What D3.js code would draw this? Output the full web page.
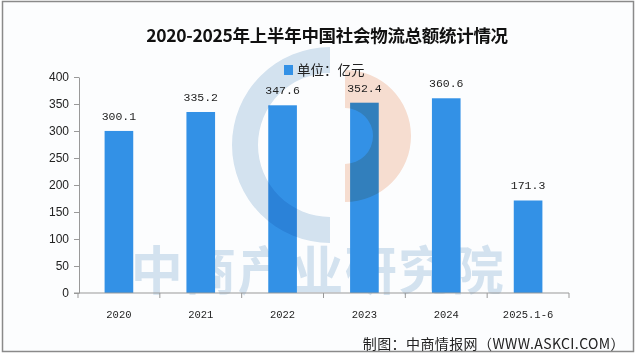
<!DOCTYPE html>
<html>
<head>
<meta charset="utf-8">
<script src="https://cdn.jsdelivr.net/npm/d3@7"></script>
<style>
html,body{margin:0;padding:0;background:#fff;}
svg{display:block;}
</style>
</head>
<body>
<svg id="chart" width="640" height="356"></svg>
<script>
const categories = ["2020", "2021", "2022", "2023", "2024", "2025.1-6"];
const values = [300.1, 335.2, 347.6, 352.4, 360.6, 171.3];
const yTicks = [0, 50, 100, 150, 200, 250, 300, 350, 400];
const titleText = "2020-2025年上半年中国社会物流总额统计情况";
const legendText = "单位：亿元";
const sourceText = "制图：中商情报网（WWW.ASKCI.COM）";
const watermarkText = "中商产业研究院";

const svg = d3.select("#chart");
const barColor = "#3391e6";

// frame
svg.append("rect").attr("x", 2.5).attr("y", 1.5).attr("width", 631).attr("height", 350)
  .attr("fill", "#fcfdfe").attr("stroke", "#8a8a8a").attr("stroke-width", 1.5);

const x = d3.scaleBand().domain(categories).range([78, 569])
  .paddingInner(0.65).paddingOuter(0.325);
const y = d3.scaleLinear().domain([0, 400]).range([293, 77]);

// watermark text (behind bars)
svg.append("text").attr("x", 318).attr("y", 290).attr("text-anchor", "middle")
  .attr("font-family", "Noto Sans CJK SC").attr("font-size", 52).attr("font-weight", "bold")
  .attr("letter-spacing", 1.5).attr("fill", "#d3e2ef").text(watermarkText);

// bars
svg.append("g").selectAll("rect").data(values).join("rect")
  .attr("x", (d, i) => x(categories[i]))
  .attr("y", d => y(d))
  .attr("width", x.bandwidth())
  .attr("height", d => y(0) - y(d))
  .attr("fill", barColor);

// watermark logo (drawn on top with multiply)
const wm = svg.append("g").style("mix-blend-mode", "multiply");
const arcBlue = d3.arc().innerRadius(72).outerRadius(98).startAngle(Math.PI).endAngle(2 * Math.PI);
wm.append("path").attr("d", arcBlue()).attr("transform", "translate(330,145)").attr("fill", "#d6e4f0");
const arcOrange = d3.arc().innerRadius(28).outerRadius(66).startAngle(0).endAngle(Math.PI);
wm.append("path").attr("d", arcOrange()).attr("transform", "translate(345,136)").attr("fill", "#f9dfd1");

// y axis
const yAxis = d3.axisLeft(y).tickValues(yTicks).tickSize(5).tickPadding(5).tickSizeOuter(0);
const gy = svg.append("g").attr("transform", "translate(79,0)").call(yAxis);
gy.selectAll("path,line").attr("stroke", "#999");
gy.selectAll("text").attr("font-family", "Liberation Sans, Arial").attr("font-size", 12).attr("fill", "#222");

// x axis
const gx = svg.append("g").attr("transform", "translate(0,293)");
gx.append("line").attr("x1", 74).attr("x2", x.range()[1]).attr("stroke", "#999");
const step = x.step();
const bounds = d3.range(categories.length + 1).map(i => x.range()[0] + i * step);
gx.selectAll("line.tick").data(bounds).join("line").attr("class", "tick")
  .attr("x1", d => d).attr("x2", d => d).attr("y1", 0).attr("y2", 5).attr("stroke", "#999");
gx.selectAll("text").data(categories).join("text")
  .attr("x", d => x(d) + x.bandwidth() / 2).attr("y", 25)
  .attr("text-anchor", "middle").attr("font-family", "Liberation Mono, monospace")
  .attr("font-size", 10.5).attr("fill", "#222").text(d => d);

// bar labels
svg.append("g").selectAll("text").data(values).join("text")
  .attr("x", (d, i) => x(categories[i]) + x.bandwidth() / 2)
  .attr("y", d => y(d) - 11)
  .attr("text-anchor", "middle").attr("font-family", "Liberation Mono, monospace")
  .attr("font-size", 11.5).attr("fill", "#222").text(d => d.toFixed(1));

// title
svg.append("text").attr("x", 327).attr("y", 42).attr("text-anchor", "middle")
  .attr("font-family", "Noto Sans CJK SC").attr("font-weight", "bold").attr("font-size", 17.5)
  .attr("letter-spacing", -0.3).attr("fill", "#111").text(titleText);

// legend
svg.append("rect").attr("x", 284).attr("y", 65).attr("width", 9).attr("height", 10).attr("fill", barColor);
svg.append("text").attr("x", 297).attr("y", 75).attr("font-family", "Noto Sans CJK SC")
  .attr("font-size", 13.5).attr("fill", "#222").text(legendText);

// source
svg.append("text").attr("x", 625).attr("y", 349).attr("text-anchor", "end")
  .attr("font-family", "Noto Sans CJK SC").attr("font-size", 14).attr("letter-spacing", 0.4)
  .attr("fill", "#222").text(sourceText);
</script>
</body>
</html>
